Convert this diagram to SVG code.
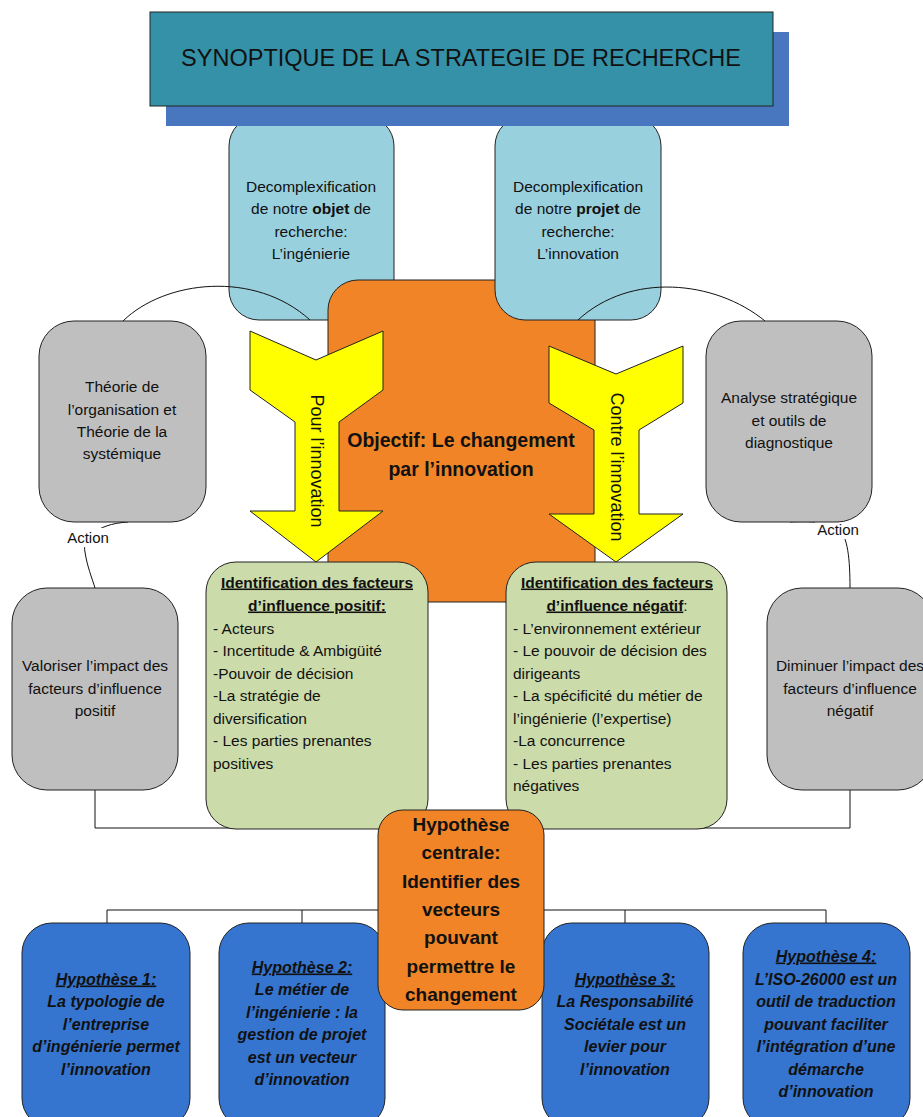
<svg xmlns="http://www.w3.org/2000/svg" width="923" height="1117" viewBox="0 0 923 1117">
<style>
text{font-family:"Liberation Sans",Arial,sans-serif;fill:#111}
.t{font-size:15.5px}
.c{text-anchor:middle}
.b{font-weight:bold}
.box{stroke:#222;stroke-width:1}
.lb{fill:#99D0DD}
.gr{fill:#BFBFBF}
.gn{fill:#CCDBAA}
.or{fill:#F08426}
.bl{fill:#3574CF}
.ye{fill:#FFFF00}
.con{fill:none;stroke:#111;stroke-width:1}
.hyp{font-size:16px;font-weight:bold;font-style:italic;text-anchor:middle}
.obj{font-size:19.5px;font-weight:bold;text-anchor:middle}
.hc{font-size:19px;font-weight:bold;text-anchor:middle}
.arr{font-size:18px;text-anchor:middle}
</style>
<rect x="0" y="0" width="923" height="1117" fill="#fff"/>

<g id="node-objet">
<rect class="box lb" x="229" y="116" width="165" height="204" rx="30"/>
<text class="t c" x="311" y="191.5">Decomplexification</text>
<text class="t c" x="311" y="214">de notre <tspan class="b">objet</tspan> de</text>
<text class="t c" x="311" y="236.5">recherche:</text>
<text class="t c" x="311" y="259">L’ingénierie</text>
</g>

<g id="node-objectif">
<rect class="box or" x="328" y="280" width="267" height="322" rx="30"/>
<text class="obj" x="461" y="447">Objectif: Le changement</text>
<text class="obj" x="461" y="476">par l’innovation</text>
</g>

<g id="node-projet">
<rect class="box lb" x="495" y="116" width="166" height="204" rx="30"/>
<text class="t c" x="578" y="191.5">Decomplexification</text>
<text class="t c" x="578" y="214">de notre <tspan class="b">projet</tspan> de</text>
<text class="t c" x="578" y="236.5">recherche:</text>
<text class="t c" x="578" y="259">L’innovation</text>
</g>

<g id="connectors">
<path class="con" d="M123,321 C165,280 255,270 310,320"/>
<path class="con" d="M578,320 C630,272 715,280 765,321"/>
<path class="con" d="M128,522 C95,524 82,540 85,552 C87,566 92,578 95,588"/>
<rect x="64" y="528" width="48" height="19" fill="#fff"/>
<text class="c" x="88" y="543" font-size="15">Action</text>
<path class="con" d="M790,522 C810,521 830,522 838,528 C848,536 850,560 850,588"/>
<rect x="815" y="520" width="47" height="19" fill="#fff"/>
<text class="c" x="838" y="535" font-size="15">Action</text>
<path class="con" d="M95,790 V828 H850 V790"/>
<path class="con" d="M107,923 V910 H826 V923 M302,910 V923 M625,910 V923"/>
</g>

<g id="node-title">
<rect x="166" y="32" width="623" height="94" fill="#4877C0"/>
<rect x="150" y="12" width="623" height="94" fill="#3591A7" stroke="#222" stroke-width="1"/>
<text class="c" x="461" y="66" font-size="23.5">SYNOPTIQUE DE LA STRATEGIE DE RECHERCHE</text>
</g>

<g id="node-theorie">
<rect class="box gr" x="39" y="321" width="167" height="201" rx="35"/>
<text class="t c" x="122" y="392">Théorie de</text>
<text class="t c" x="122" y="415">l’organisation et</text>
<text class="t c" x="122" y="437">Théorie de la</text>
<text class="t c" x="122" y="459">systémique</text>
</g>

<g id="node-analyse">
<rect class="box gr" x="706" y="321" width="166" height="201" rx="35"/>
<text class="t c" x="789" y="403">Analyse stratégique</text>
<text class="t c" x="789" y="426">et outils de</text>
<text class="t c" x="789" y="448">diagnostique</text>
</g>

<g id="node-valoriser">
<rect class="box gr" x="12" y="588" width="166" height="202" rx="35"/>
<text class="t c" x="95" y="671">Valoriser l’impact des</text>
<text class="t c" x="95" y="694">facteurs d’influence</text>
<text class="t c" x="95" y="716">positif</text>
</g>

<g id="node-diminuer">
<rect class="box gr" x="767" y="588" width="166" height="202" rx="35"/>
<text class="t c" x="850" y="671">Diminuer l’impact des</text>
<text class="t c" x="850" y="694">facteurs d’influence</text>
<text class="t c" x="850" y="716">négatif</text>
</g>

<g id="node-pour">
<polygon class="box ye" points="250,331 316,360 383,331 383,390 339,422 339,511 383,511 316,562 250,511 295,511 295,422 250,390"/>
<text class="arr" transform="translate(317,461) rotate(90)" x="0" y="6">Pour l’innovation</text>
</g>

<g id="node-contre">
<polygon class="box ye" points="549,346 616,374 683,346 683,403 639,430 639,514 683,514 616,562 549,514 594,514 594,430 549,403"/>
<text class="arr" transform="translate(617,467) rotate(90)" x="0" y="6">Contre l’innovation</text>
</g>

<g id="node-positif">
<rect class="box gn" x="206" y="562" width="222" height="267" rx="30"/>
<text class="t c b" x="317" y="587.5" text-decoration="underline">Identification des facteurs</text>
<text class="t c b" x="317" y="610.5" text-decoration="underline">d’influence positif:</text>
<text class="t" x="213" y="633.5">- Acteurs</text>
<text class="t" x="213" y="656">- Incertitude &amp; Ambigüité</text>
<text class="t" x="213" y="678.5">-Pouvoir de décision</text>
<text class="t" x="213" y="701">-La stratégie de</text>
<text class="t" x="213" y="723.5">diversification</text>
<text class="t" x="213" y="746">- Les parties prenantes</text>
<text class="t" x="213" y="768.5">positives</text>
</g>

<g id="node-negatif">
<rect class="box gn" x="506" y="562" width="221" height="267" rx="30"/>
<text class="t c b" x="617" y="587.5" text-decoration="underline">Identification des facteurs</text>
<text class="t c" x="617" y="610.5"><tspan class="b" text-decoration="underline">d’influence négatif</tspan>:</text>
<text class="t" x="513" y="633.5">- L’environnement extérieur</text>
<text class="t" x="513" y="656">- Le pouvoir de décision des</text>
<text class="t" x="513" y="678.5">dirigeants</text>
<text class="t" x="513" y="701">- La spécificité du métier de</text>
<text class="t" x="513" y="723.5">l’ingénierie (l’expertise)</text>
<text class="t" x="513" y="746">-La concurrence</text>
<text class="t" x="513" y="768.5">- Les parties prenantes</text>
<text class="t" x="513" y="791">négatives</text>
</g>

<g id="node-hyp1">
<rect class="box bl" x="22" y="923" width="168" height="205" rx="30"/>
<text class="hyp" x="106" y="984.5" text-decoration="underline">Hypothèse 1:</text>
<text class="hyp" x="106" y="1007">La typologie de</text>
<text class="hyp" x="106" y="1029.5">l’entreprise</text>
<text class="hyp" x="106" y="1052">d’ingénierie permet</text>
<text class="hyp" x="106" y="1074.5">l’innovation</text>
</g>

<g id="node-hyp2">
<rect class="box bl" x="219" y="923" width="166" height="205" rx="30"/>
<text class="hyp" x="302" y="972.5" text-decoration="underline">Hypothèse 2:</text>
<text class="hyp" x="302" y="995">Le métier de</text>
<text class="hyp" x="302" y="1017.5">l’ingénierie : la</text>
<text class="hyp" x="302" y="1040">gestion de projet</text>
<text class="hyp" x="302" y="1062.5">est un vecteur</text>
<text class="hyp" x="302" y="1085">d’innovation</text>
</g>

<g id="node-hyp3">
<rect class="box bl" x="542" y="923" width="167" height="205" rx="30"/>
<text class="hyp" x="625" y="984.5" text-decoration="underline">Hypothèse 3:</text>
<text class="hyp" x="625" y="1007">La Responsabilité</text>
<text class="hyp" x="625" y="1029.5">Sociétale est un</text>
<text class="hyp" x="625" y="1052">levier pour</text>
<text class="hyp" x="625" y="1074.5">l’innovation</text>
</g>

<g id="node-hyp4">
<rect class="box bl" x="743" y="923" width="167" height="205" rx="30"/>
<text class="hyp" x="826" y="961.5" text-decoration="underline">Hypothèse 4:</text>
<text class="hyp" x="826" y="984.5">L’ISO-26000 est un</text>
<text class="hyp" x="826" y="1007">outil de traduction</text>
<text class="hyp" x="826" y="1029.5">pouvant faciliter</text>
<text class="hyp" x="826" y="1052">l’intégration d’une</text>
<text class="hyp" x="826" y="1074.5">démarche</text>
<text class="hyp" x="826" y="1097">d’innovation</text>
</g>

<g id="node-hypothese-centrale">
<rect class="box or" x="378" y="810" width="166" height="200" rx="25"/>
<text class="hc" x="461" y="831">Hypothèse</text>
<text class="hc" x="461" y="859.3">centrale:</text>
<text class="hc" x="461" y="887.6">Identifier des</text>
<text class="hc" x="461" y="915.9">vecteurs</text>
<text class="hc" x="461" y="944.2">pouvant</text>
<text class="hc" x="461" y="972.5">permettre le</text>
<text class="hc" x="461" y="1000.8">changement</text>
</g>
</svg>
